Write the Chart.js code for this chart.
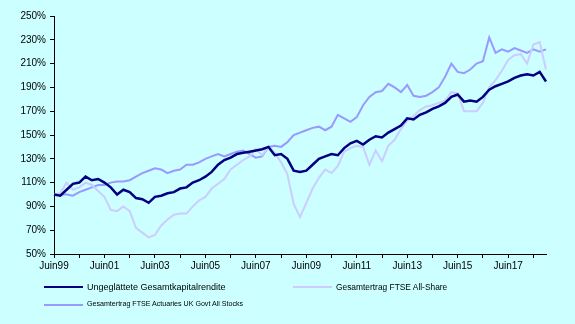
<!DOCTYPE html>
<html>
<head>
<meta charset="utf-8">
<script src="https://cdn.jsdelivr.net/npm/chart.js@4/dist/chart.umd.min.js"></script>
<style>
  html, body { margin: 0; padding: 0; background: #CCFFFF; }
  #wrap { position: relative; width: 575px; height: 324px; font-family: "Liberation Sans", Arial, sans-serif; }
  #c { position: absolute; left: 0; top: 0; }
  .leg { position: absolute; display: flex; align-items: center; white-space: nowrap; color: #000; line-height: 1; }
  .leg i { display: inline-block; width: 39px; height: 2px; margin-right: 4px; }
</style>
</head>
<body>
<div id="wrap">
  <canvas id="c" width="575" height="324"></canvas>
</div>
<script>
// --- quarterly points, Jun 1999 .. Dec 2018 ---
const quarters = [
  'Jun99','Sep99','Dec99',
  'Mar00','Jun00','Sep00','Dec00','Mar01','Jun01','Sep01','Dec01',
  'Mar02','Jun02','Sep02','Dec02','Mar03','Jun03','Sep03','Dec03',
  'Mar04','Jun04','Sep04','Dec04','Mar05','Jun05','Sep05','Dec05',
  'Mar06','Jun06','Sep06','Dec06','Mar07','Jun07','Sep07','Dec07',
  'Mar08','Jun08','Sep08','Dec08','Mar09','Jun09','Sep09','Dec09',
  'Mar10','Jun10','Sep10','Dec10','Mar11','Jun11','Sep11','Dec11',
  'Mar12','Jun12','Sep12','Dec12','Mar13','Jun13','Sep13','Dec13',
  'Mar14','Jun14','Sep14','Dec14','Mar15','Jun15','Sep15','Dec15',
  'Mar16','Jun16','Sep16','Dec16','Mar17','Jun17','Sep17','Dec17',
  'Mar18','Jun18','Sep18','Dec18'
];

const tickLabels = ['Juin99','Juin01','Juin03','Juin05','Juin07','Juin09','Juin11','Juin13','Juin15','Juin17'];

const seriesNames = [
  'Ungeglättete Gesamtkapitalrendite',
  'Gesamtertrag FTSE All-Share',
  'Gesamtertrag FTSE Actuaries UK Govt All Stocks'
];

// Gesamtkapitalrendite (ungeglättet), in %
const kapitalrendite = [
  100, 99, 104,
  109, 110, 115, 112, 113, 110, 106, 100,
  104, 102, 97, 96, 93, 98, 99, 101,
  102, 105, 106, 110, 112, 115, 119, 125,
  129, 131, 134, 135, 136, 137, 138, 140,
  133, 134, 130, 120, 119, 120, 125, 130,
  132, 134, 133, 139, 143, 145, 142, 146,
  149, 148, 152, 155, 158, 164, 163, 167,
  169, 172, 174, 177, 182, 184, 178, 179,
  178, 182, 188, 191, 193, 195, 198, 200,
  201, 200, 203, 195
];

// FTSE All-Share
const allShare = [
  100, 101, 110,
  104, 106, 110, 108, 103, 98, 87, 86,
  90, 86, 72, 68, 64, 66, 74, 79,
  83, 84, 84, 90, 95, 98, 105, 109,
  113, 121, 125, 129, 132, 138, 133, 140,
  135, 127, 117, 92, 81, 93, 105, 114,
  121, 118, 124, 136, 139, 141, 140, 125,
  137, 128, 141, 146, 155, 162, 166, 171,
  174, 175, 177, 179, 186, 185, 170, 170,
  170, 177, 190, 196, 204, 213, 217, 218,
  210, 226, 228, 205
];

// FTSE Actuaries UK Govt All Stocks
const govtStocks = [
  100, 100, 100,
  99, 102, 104, 106, 108, 108, 110, 111,
  111, 112, 115, 118, 120, 122, 121, 118,
  120, 121, 125, 125, 127, 130, 132, 134,
  132, 134, 136, 137, 134, 131, 132, 140,
  141, 140, 144, 150, 152, 154, 156, 157,
  154, 157, 167, 164, 161, 165, 175, 182,
  186, 187, 193, 190, 186, 192, 183, 182,
  183, 186, 190, 199, 210, 203, 202, 205,
  210, 212, 232, 219, 222, 220, 223, 221,
  219, 222, 220, 222
];

const colors = ['#000080', '#CCCCFF', '#9999FF'];
const widths = [2.5, 2, 2];
const values = [kapitalrendite, allShare, govtStocks];

const axisFont = { family: '"Liberation Sans", Arial, sans-serif', size: 10 };

new Chart(document.getElementById('c'), {
  type: 'line',
  data: {
    labels: quarters,
    datasets: values.map((v, i) => ({
      label: seriesNames[i],
      data: v,
      borderColor: colors[i],
      borderWidth: widths[i],
      pointRadius: 0,
      tension: 0,
      fill: false
    }))
  },
  options: {
    responsive: false,
    animation: false,
    layout: { padding: { top: 16, right: 29, bottom: 48, left: 0 } },
    plugins: { legend: { display: false }, tooltip: { enabled: false } },
    scales: {
      x: {
        type: 'category',
        offset: false,
        afterFit: s => { s.height = 22; },
        border: { color: '#000', width: 1 },
        grid: {
          drawOnChartArea: false,
          tickLength: 4,
          // a tick mark every June, a label every second June
          color: ctx => (ctx.index % 4 === 0 ? '#000' : 'rgba(0,0,0,0)')
        },
        ticks: {
          autoSkip: false,
          maxRotation: 0,
          padding: 2,
          color: '#000',
          font: axisFont,
          callback: (val, idx) => (idx % 8 === 0 ? tickLabels[idx / 8] : '')
        }
      },
      y: {
        min: 50,
        max: 250,
        afterFit: s => { s.width = 54; },
        border: { color: '#000', width: 1 },
        grid: { drawOnChartArea: false, tickLength: 4, color: '#000' },
        ticks: {
          stepSize: 20,
          padding: 4,
          color: '#000',
          font: axisFont,
          callback: v => v + '%'
        }
      }
    }
  }
});

// legend below the plot, two rows
const legendItems = [
  { left: 44, top: 287, size: 9 },
  { left: 293, top: 287, size: 8.4 },
  { left: 44, top: 305, size: 7.1 }
];
const wrap = document.getElementById('wrap');
legendItems.forEach((p, i) => {
  const d = document.createElement('div');
  d.className = 'leg';
  d.style.left = p.left + 'px';
  d.style.top = (p.top - 6) + 'px';
  d.style.height = '12px';
  d.style.fontSize = p.size + 'px';
  d.innerHTML = '<i style="background:' + colors[i] + '"></i><span></span>';
  d.querySelector('span').textContent = seriesNames[i];
  wrap.appendChild(d);
});
</script>
</body>
</html>
